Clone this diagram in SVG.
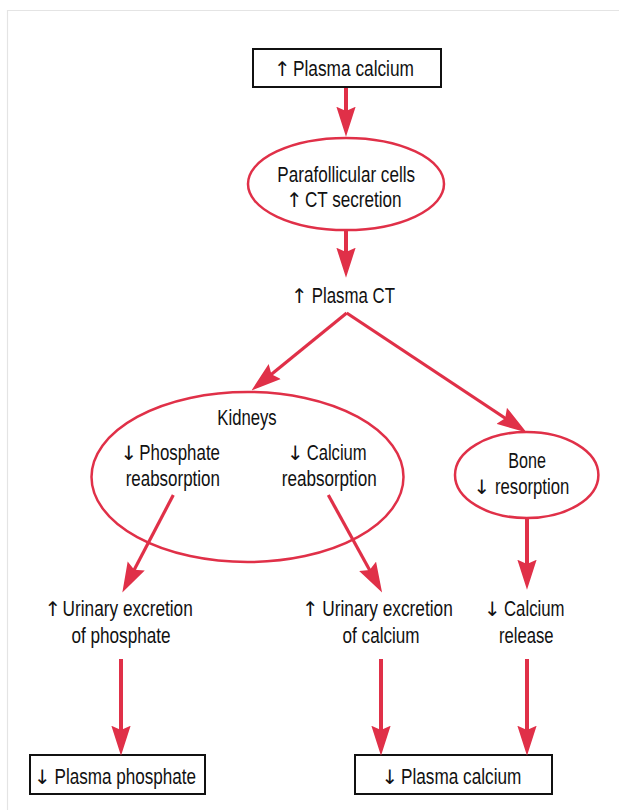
<svg xmlns="http://www.w3.org/2000/svg" width="619" height="810" viewBox="0 0 619 810">
<style>
  .t { font-family: "Liberation Sans", Arial, sans-serif; font-size: 22px; fill: #111; }
  .ar { font-family: "DejaVu Sans", "Liberation Sans", sans-serif; font-size: 20px; fill: #111; text-anchor: middle; }
  .box { fill: #fff; stroke: #111; stroke-width: 2; }
  .ell { fill: #fff; stroke: #e03048; stroke-width: 2.5; }
  .con { fill: none; stroke: #e03048; stroke-width: 4; }
  .con2 { fill: none; stroke: #e03048; stroke-width: 3.2; }
  .frame { stroke: #e4e4e4; stroke-width: 1.2; fill: none; }
</style>
<defs>
  <marker id="ah" markerUnits="userSpaceOnUse" markerWidth="30" markerHeight="20" viewBox="0 0 28 18" refX="18" refY="9" orient="auto">
    <path d="M0,0 L28,9 L0,18 L4,9 Z" fill="#e03048"/>
  </marker>
</defs>
<rect width="619" height="810" fill="#fff"/>
<path class="frame" d="M7.5,810 L7.5,10.5 L619,10.5"/>

<g id="plasma-calcium-up">
  <rect class="box" x="253" y="49" width="188" height="38"/>
  <text class="ar" x="282.5" y="76">↑</text>
  <text class="t" transform="translate(293,76) scale(0.786,1)">Plasma calcium</text>
</g>

<g id="parafollicular">
  <ellipse class="ell" cx="346" cy="184" rx="98" ry="46"/>
  <text class="t" transform="translate(277.3,182) scale(0.778,1)">Parafollicular cells</text>
  <text class="ar" x="294.5" y="207">↑</text>
  <text class="t" transform="translate(305,207) scale(0.778,1)">CT secretion</text>
</g>

<g id="plasma-ct">
  <text class="ar" x="299.5" y="303">↑</text>
  <text class="t" transform="translate(311.7,303) scale(0.766,1)">Plasma CT</text>
</g>

<g id="kidneys">
  <ellipse class="ell" cx="247.5" cy="477" rx="156" ry="85"/>
  <text class="t" transform="translate(217.3,425) scale(0.759,1)">Kidneys</text>
  <text class="ar" x="129" y="460">↓</text>
  <text class="t" transform="translate(139.3,460) scale(0.767,1)">Phosphate</text>
  <text class="t" transform="translate(125.7,486) scale(0.771,1)">reabsorption</text>
  <text class="ar" x="295.5" y="460">↓</text>
  <text class="t" transform="translate(306.7,460) scale(0.755,1)">Calcium</text>
  <text class="t" transform="translate(281.7,486) scale(0.777,1)">reabsorption</text>
</g>

<g id="bone">
  <ellipse class="ell" cx="526.7" cy="475" rx="71.7" ry="43"/>
  <text class="t" transform="translate(508.3,468) scale(0.734,1)">Bone</text>
  <text class="ar" x="482" y="494">↓</text>
  <text class="t" transform="translate(495,494) scale(0.76,1)">resorption</text>
</g>

<g id="urinary-phosphate">
  <text class="ar" x="53" y="616">↑</text>
  <text class="t" transform="translate(62.6,616) scale(0.783,1)">Urinary excretion</text>
  <text class="t" transform="translate(71.4,643) scale(0.78,1)">of phosphate</text>
</g>

<g id="urinary-calcium">
  <text class="ar" x="310.5" y="616">↑</text>
  <text class="t" transform="translate(322.3,616) scale(0.785,1)">Urinary excretion</text>
  <text class="t" transform="translate(342.6,643) scale(0.778,1)">of calcium</text>
</g>

<g id="calcium-release">
  <text class="ar" x="492.5" y="616">↓</text>
  <text class="t" transform="translate(504,616) scale(0.763,1)">Calcium</text>
  <text class="t" transform="translate(499,643) scale(0.756,1)">release</text>
</g>

<g id="plasma-phosphate-down">
  <rect class="box" x="30" y="755" width="175" height="39"/>
  <text class="ar" x="42.5" y="784">↓</text>
  <text class="t" transform="translate(54.5,784) scale(0.778,1)">Plasma phosphate</text>
</g>

<g id="plasma-calcium-down">
  <rect class="box" x="355" y="755" width="197" height="39"/>
  <text class="ar" x="390" y="784">↓</text>
  <text class="t" transform="translate(401,784) scale(0.782,1)">Plasma calcium</text>
</g>

<g id="connectors">
  <path class="con" d="M346,88 L346,126" marker-end="url(#ah)"/>
  <path class="con" d="M346,230 L346,267" marker-end="url(#ah)"/>
  <path class="con2" d="M346.7,313 L259.8,383.7" marker-end="url(#ah)"/>
  <path class="con2" d="M346.7,313 L517.7,426.5" marker-end="url(#ah)"/>
  <path class="con2" d="M173.3,495 L127.3,583.1" marker-end="url(#ah)"/>
  <path class="con2" d="M328.3,495 L376.9,583.2" marker-end="url(#ah)"/>
  <path class="con" d="M527,518 L527,579" marker-end="url(#ah)"/>
  <path class="con" d="M121,659 L121,745" marker-end="url(#ah)"/>
  <path class="con" d="M381,659 L381,745" marker-end="url(#ah)"/>
  <path class="con" d="M527,659 L527,745" marker-end="url(#ah)"/>
</g>
</svg>
